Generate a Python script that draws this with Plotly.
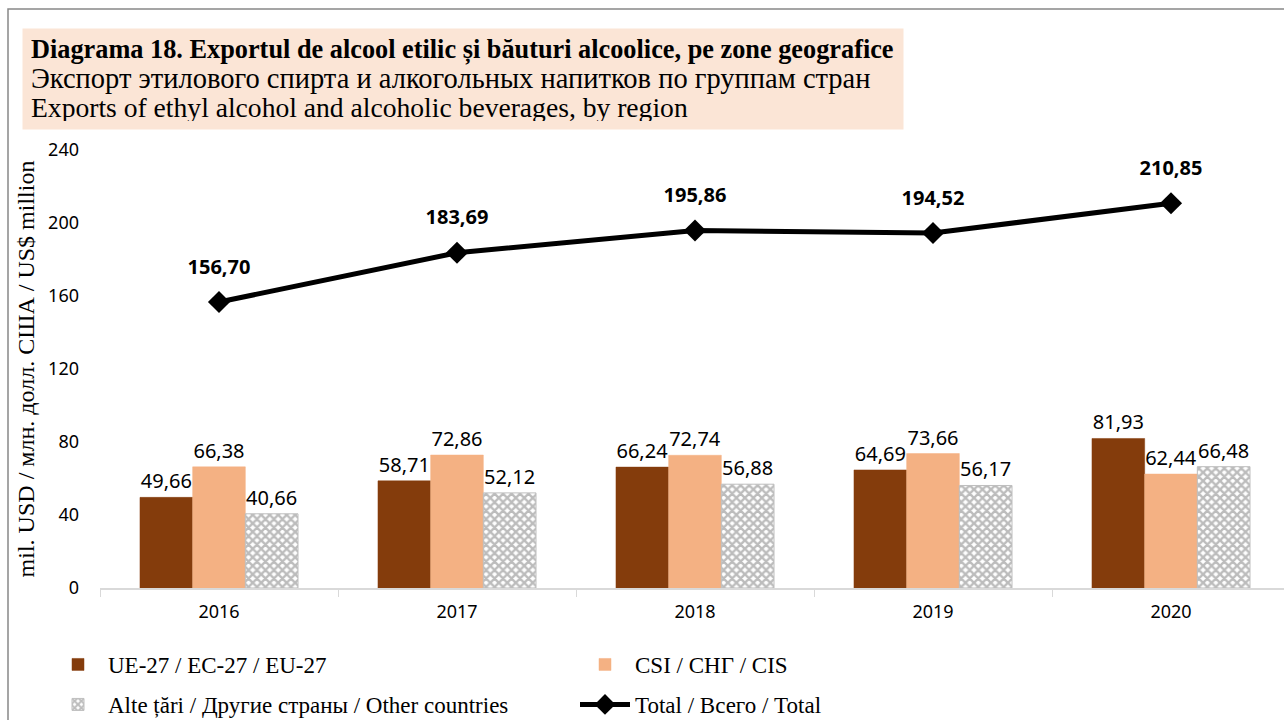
import plotly.graph_objects as go

years = ["2016", "2017", "2018", "2019", "2020"]
eu = [49.66, 58.71, 66.24, 64.69, 81.93]
cis = [66.38, 72.86, 72.74, 73.66, 62.44]
other = [40.66, 52.12, 56.88, 56.17, 66.48]
total = [156.70, 183.69, 195.86, 194.52, 210.85]

names = ["UE-27 / ЕС-27 / EU-27", "CSI / СНГ / CIS",
         "Alte țări / Другие страны / Other countries", "Total / Всего / Total"]

SANS = "Noto Sans"
SERIF = "Liberation Serif"

L, R, T, B = 100, 0, 150, 132
W, H = 1284, 720
pw, ph = W - L - R, H - T - B

def px(x):
    return (x - L) / pw

def py(y):
    return (H - B - y) / ph

lblfont = dict(family=SANS, size=20, color="#000")

fig = go.Figure()
fig.add_trace(go.Bar(x=years, y=eu, name=names[0], legend="legend",
                     marker=dict(color="#843C0C", line=dict(color="#843C0C", width=0.5)),
                     texttemplate="%{y:.2f}", textposition="outside",
                     textfont=lblfont, cliponaxis=False))
fig.add_trace(go.Bar(x=years, y=cis, name=names[1], legend="legend",
                     marker=dict(color="#F4B183", line=dict(color="#F4B183", width=0.5)),
                     texttemplate="%{y:.2f}", textposition="outside",
                     textfont=lblfont, cliponaxis=False))
fig.add_trace(go.Bar(x=years, y=other, name=names[2], legend="legend2",
                     marker=dict(color="white", line=dict(color="#BFBFBF", width=1),
                                 pattern=dict(shape="x", fgcolor="#7A7A7A", bgcolor="white",
                                              size=6, solidity=0.65)),
                     texttemplate="%{y:.2f}", textposition="outside",
                     textfont=lblfont, cliponaxis=False))
fig.add_trace(go.Scatter(x=years, y=total, name=names[3], legend="legend2",
                         mode="lines+markers",
                         line=dict(color="#000", width=5),
                         marker=dict(symbol="diamond", size=17, color="#000")))
# labels for the total line (invisible larger markers push the text further up)
fig.add_trace(go.Scatter(x=years, y=total, mode="markers+text", showlegend=False,
                         marker=dict(size=36, opacity=0),
                         texttemplate="<b>%{y:.2f}</b>", textposition="top center",
                         textfont=lblfont, cliponaxis=False, hoverinfo="skip"))

legfont = dict(family=SERIF, size=23, color="#000")
fig.update_layout(
    width=W, height=H,
    margin=dict(l=L, r=R, t=T, b=B, autoexpand=False),
    paper_bgcolor="white", plot_bgcolor="white",
    separators=", ",
    barmode="group", bargap=0.336, bargroupgap=0,
    legend=dict(orientation="h", x=px(48), y=py(643), xanchor="left", yanchor="top",
                entrywidth=462, entrywidthmode="pixels", traceorder="normal",
                font=legfont, itemwidth=50, bgcolor="rgba(0,0,0,0)"),
    legend2=dict(orientation="h", x=px(48), y=py(683), xanchor="left", yanchor="top",
                 entrywidth=462, entrywidthmode="pixels", traceorder="normal",
                 font=legfont, itemwidth=50, bgcolor="rgba(0,0,0,0)"),
    xaxis=dict(range=[-0.5, 4.5 - 6 / 238], showline=True, linecolor="#D9D9D9", linewidth=2,
               ticks="outside", tickson="boundaries", ticklen=7, tickcolor="#D9D9D9",
               ticklabelstandoff=6,
               tickfont=dict(family=SANS, size=18, color="#000"), showgrid=False),
    yaxis=dict(range=[0, 240], dtick=40, showgrid=False, zeroline=False, showline=False,
               ticks="", ticklabelstandoff=20,
               tickfont=dict(family=SANS, size=18, color="#000"),
               title=dict(text="mil. USD / млн. долл. США / US$ million", standoff=6,
                          font=dict(family=SERIF, size=24, color="#000"))),
)

# outer frame
fig.add_shape(type="rect", xref="paper", yref="paper",
              x0=px(8), x1=px(1300), y0=py(730), y1=py(9),
              line=dict(color="#888888", width=1.5), fillcolor="rgba(0,0,0,0)", layer="above")

# title box
fig.add_annotation(xref="paper", yref="paper", x=px(22), y=py(28), xanchor="left", yanchor="top",
                   width=864, height=84, align="left", valign="middle",
                   bgcolor="#FBE5D6", borderpad=8, showarrow=False,
                   text="<b><span style='font-size:26.3px'>Diagrama 18. Exportul de alcool etilic și băuturi alcoolice, pe zone geografice</span></b><br>"
                        "<span style='font-size:28.5px'>Экспорт этилового спирта и алкогольных напитков по группам стран</span><br>"
                        "<span style='font-size:27.6px'>Exports of ethyl alcohol and alcoholic beverages, by region</span>",
                   font=dict(family=SERIF, size=23, color="#000"))

fig.write_html("out.html", config={"displayModeBar": False},
               post_script="document.body.style.margin='0';document.body.style.overflow='hidden';")
